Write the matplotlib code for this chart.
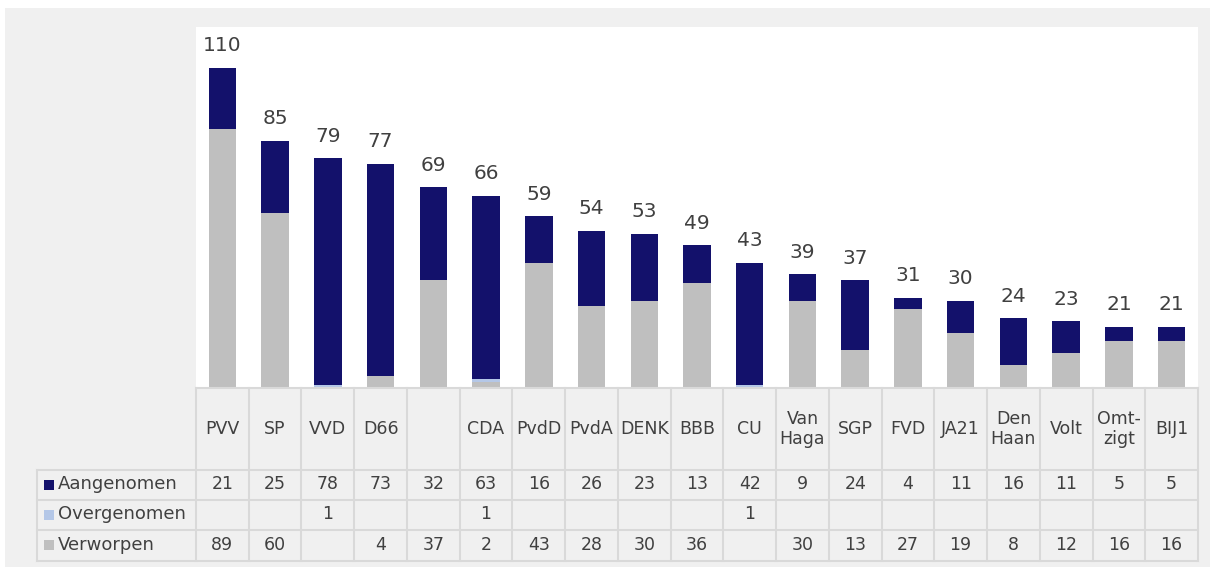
import matplotlib.pyplot as plt
from matplotlib.patches import Rectangle

# data
partijen = ['PVV', 'SP', 'VVD', 'D66', '', 'CDA', 'PvdD', 'PvdA', 'DENK', 'BBB', 'CU',
            'Van\nHaga', 'SGP', 'FVD', 'JA21', 'Den\nHaan', 'Volt', 'Omt-\nzigt', 'BIJ1']
aangenomen = [21, 25, 78, 73, 32, 63, 16, 26, 23, 13, 42, 9, 24, 4, 11, 16, 11, 5, 5]
overgenomen = [0, 0, 1, 0, 0, 1, 0, 0, 0, 0, 1, 0, 0, 0, 0, 0, 0, 0, 0]
verworpen = [89, 60, 0, 4, 37, 2, 43, 28, 30, 36, 0, 30, 13, 27, 19, 8, 12, 16, 16]
reeksen = ['Aangenomen', 'Overgenomen', 'Verworpen']
kleuren = ['#13116b', '#b4c7e7', '#bfbfbf']

tekst = '#404040'
lijn = '#d9d9d9'
W, H = 1210, 571

fig = plt.figure(figsize=(W / 100, H / 100), dpi=100)
fig.patch.set_facecolor('white')
fig.patches.append(Rectangle((5 / W, 4 / H), 1, 1 - 12 / H, transform=fig.transFigure,
                             facecolor='#f0f0f0', edgecolor='none', zorder=-5))

def box(x0, y0, x1, y1):
    # pixel coordinates from top-left
    return [x0 / W, 1 - y1 / H, (x1 - x0) / W, (y1 - y0) / H]

# bars
ax = fig.add_axes(box(196, 27, 1198, 388))
ax.set_facecolor('white')
x = list(range(len(partijen)))
bodem = [0] * len(x)
for naam, waarden, kleur in [('Verworpen', verworpen, kleuren[2]),
                             ('Overgenomen', overgenomen, kleuren[1]),
                             ('Aangenomen', aangenomen, kleuren[0])]:
    ax.bar(x, waarden, bottom=bodem, width=0.52, color=kleur, zorder=2)
    bodem = [b + w for b, w in zip(bodem, waarden)]
for i, tot in enumerate(bodem):
    ax.annotate(str(tot), (i, tot), xytext=(0, 9), textcoords='offset points',
                ha='center', va='bottom', fontsize=14.5, color=tekst)
ax.set_xlim(-0.5, len(x) - 0.5)
ax.set_ylim(0, 124)
ax.set_xticks([])
ax.set_yticks([])
for s in ax.spines.values():
    s.set_visible(False)

# table
tb = fig.add_axes(box(196, 388, 1198, 561))
tb.set_xlim(-0.5, len(x) - 0.5)
tb.set_ylim(173, 0)
tb.axis('off')
kolom = 1002 / len(x)
links = -0.5 - (196 - 37) / kolom
rijen = [82, 112, 142, 173]
kw = dict(color=lijn, lw=1.5, clip_on=False, zorder=1)
tb.plot([-0.5, len(x) - 0.5], [0, 0], **kw)
for r in rijen:
    tb.plot([links, len(x) - 0.5], [r, r], **kw)
for i in range(len(x) + 1):
    tb.plot([i - 0.5, i - 0.5], [0, 173], **kw)
tb.plot([links, links], [82, 173], **kw)

for i, p in enumerate(partijen):
    tb.text(i, 41, p, ha='center', va='center', fontsize=12.5, color=tekst,
            linespacing=1.1, clip_on=False)
for r, (naam, waarden, kleur) in enumerate(zip(reeksen, [aangenomen, overgenomen, verworpen], kleuren)):
    ym = (rijen[r] + rijen[r + 1]) / 2
    tb.add_patch(Rectangle((links + 7 / kolom, ym - 5.5), 10 / kolom, 10, facecolor=kleur,
                           edgecolor='none', clip_on=False))
    tb.text(links + 21 / kolom, ym - 1, naam, ha='left', va='center', fontsize=13, color=tekst, clip_on=False)
    for i, v in enumerate(waarden):
        if v:
            tb.text(i, ym - 1, str(v), ha='center', va='center', fontsize=12.5, color=tekst)

fig.savefig('out.png', dpi=100, facecolor=fig.get_facecolor())
